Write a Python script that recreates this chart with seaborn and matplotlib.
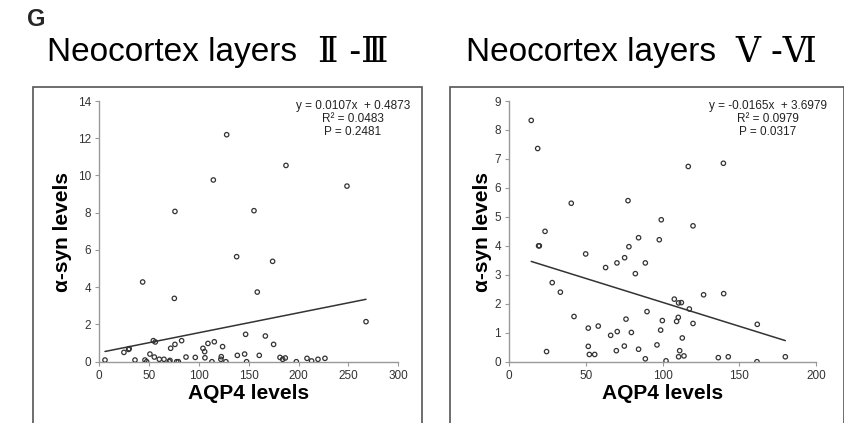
import numpy as np
import pandas as pd
import matplotlib.pyplot as plt
import seaborn as sns
from matplotlib.patches import Rectangle

# layers II-III : AQP4 vs alpha-syn
aqp4_23 = [5.7, 24.7, 29.4, 30, 35.8, 43.5, 45.8, 47.5, 50.8, 54.2, 56.2, 55.2, 60.2, 64.9,
           70.2, 70.9, 71.6, 75.3, 75.9, 75.9, 77.6, 79.3, 82.6, 87, 96.3, 104, 105.7, 106,
           109, 113, 114.4, 115.4, 122.4, 122, 123.7, 127, 127.8, 137.8, 138.5, 145.8, 146.8,
           147.8, 155.2, 158.5, 160.5, 166.6, 173.9, 174.9, 181.3, 184, 186.6, 187.3, 197.7,
           208.4, 213, 219.4, 226.4, 248.5, 267.6]
syn_23 = [0.09, 0.5, 0.66, 0.7, 0.09, 4.28, 0.09, 0.0, 0.41, 1.13, 1.06, 0.25, 0.13, 0.13,
          0.0, 0.07, 0.72, 3.4, 8.07, 0.93, 0.0, 0.0, 1.13, 0.25, 0.23, 0.72, 0.54, 0.21,
          0.98, 0.0, 9.76, 1.07, 0.27, 0.13, 0.81, 0.0, 12.19, 5.64, 0.34, 0.41, 1.47,
          0.0, 8.11, 3.74, 0.34, 1.38, 5.39, 0.93, 0.23, 0.13, 0.2, 10.54, 0.0,
          0.18, 0.04, 0.13, 0.18, 9.43, 2.15]
slope_23, icpt_23 = 0.0107, 0.4873
stats_23 = ["y = 0.0107x  + 0.4873", "R² = 0.0483", "P = 0.2481"]

# layers V-VI
aqp4_56 = [14.3, 18.5, 19.1, 19.6, 23.3, 24.3, 28, 33.3, 40.4, 42.2, 49.8, 51.5, 51.5, 52.2,
           55.7, 58, 62.8, 66.1, 69.8, 70.2, 70.4, 75, 75.2, 76.1, 77.4, 78, 79.6, 82.2,
           84.3, 84.3, 88.7, 88.7, 89.8, 96.3, 97.8, 98.7, 99.1, 99.8, 102.2, 107.6, 109.1,
           110.2, 110.4, 111.1, 112.2, 110.4, 112.8, 113.9, 116.7, 117.4, 119.8, 119.8,
           126.7, 136.3, 139.6, 139.8, 142.8, 161.5, 161.7, 180]
syn_56 = [8.33, 7.36, 4.0, 4.0, 4.5, 0.35, 2.73, 2.4, 5.47, 1.56, 3.72, 1.16, 0.53, 0.25,
          0.25, 1.23, 3.25, 0.91, 0.38, 3.41, 1.04, 0.54, 3.59, 1.47, 5.56, 3.97, 1.01, 3.04,
          4.28, 0.43, 3.41, 0.1, 1.73, 0.58, 4.21, 1.09, 4.9, 1.42, 0.03, 2.16, 1.39,
          1.53, 2.03, 0.38, 2.04, 0.17, 0.82, 0.2, 6.74, 1.82, 4.69, 1.32,
          2.31, 0.14, 6.85, 2.35, 0.17, 0.0, 1.29, 0.17]
slope_56, icpt_56 = -0.0165, 3.6979
stats_56 = ["y = -0.0165x  + 3.6979", "R² = 0.0979", "P = 0.0317"]

title_text = "Neocortex layers"
title_layers = ["Ⅱ -Ⅲ", "Ⅴ -Ⅵ"]

sns.set_style("white")
fam = ['Liberation Sans', 'Noto Sans CJK JP', 'DejaVu Sans']
plt.rcParams['font.family'] = fam

fig = plt.figure(figsize=(8.45, 4.23), dpi=100)

# panel frames
for x0, x1 in [(33, 422.5), (450, 843.5)]:
    fig.patches.append(Rectangle((x0 / 845, -0.05), (x1 - x0) / 845, (423 - 87.3) / 423 + 0.05,
                                 transform=fig.transFigure, fill=False, ec='#555555', lw=1.2))

panels = [
    (aqp4_23, syn_23, slope_23, icpt_23, stats_23, 300, 14, 2, [0, 50, 100, 150, 200, 250, 300], 99.3, 299.0, 353),
    (aqp4_56, syn_56, slope_56, icpt_56, stats_56, 200, 9, 1, [0, 50, 100, 150, 200], 509.3, 306.7, 768),
]

for i, (xs, ys, m, b, st, xmax, ymax, ystep, xt, px, pw, tx) in enumerate(panels):
    ax = fig.add_axes([px / 845, (423 - 361.7) / 423, pw / 845, 260.7 / 423])
    df = pd.DataFrame({"aqp4": xs, "syn": ys})
    sns.scatterplot(data=df, x="aqp4", y="syn", ax=ax, s=10, facecolor='none',
                    edgecolor='#333333', linewidth=0.9, zorder=3)
    fit = pd.DataFrame({"x": [min(xs), max(xs)]})
    fit["y"] = m * fit["x"] + b
    sns.lineplot(data=fit, x="x", y="y", ax=ax, color='#333333', lw=1.1)
    ax.set_xlim(0, xmax)
    ax.set_ylim(0, ymax)
    ax.set_xticks(xt)
    ax.set_yticks(np.arange(0, ymax + 1, ystep))
    ax.set_xlabel("")
    ax.set_ylabel("")
    sns.despine(ax=ax)
    for s in ["left", "bottom"]:
        ax.spines[s].set_color('#999999')
        ax.spines[s].set_linewidth(1.0)
    ax.tick_params(axis='both', direction='out', length=3, width=0.8, color='#999999',
                   labelsize=8.5, labelcolor='#333333', pad=3, bottom=True, left=True)
    for k, line in enumerate(st):
        fig.text(tx / 845, 1 - (106.5 + 12.7 * k) / 423, line, ha='center', va='center',
                 fontsize=8.5, color='#222222')
    # titles and axis labels
    fig.text([47, 466][i] / 845, 1 - 52 / 423, title_text, ha='left', va='center',
             fontsize=24, color='black', family=['Liberation Sans', 'DejaVu Sans'])
    fig.text([318, 735][i] / 845, 1 - 52 / 423, title_layers[i], ha='left', va='center',
             fontsize=25, color='black', family=['DejaVu Serif', 'Noto Sans CJK JP'])
    fig.text([249, 663][i] / 845, 1 - 393 / 423, "AQP4 levels", ha='center', va='center',
             fontsize=15, fontweight='bold', color='black')
    fig.text([63, 483][i] / 845, 1 - 232 / 423, "α-syn levels", ha='center', va='center',
             fontsize=15, fontweight='bold', rotation=90, color='black')

fig.text(27 / 845, 1 - 19 / 423, "G", ha='left', va='center', fontsize=17,
         fontweight='bold', family=['Liberation Sans', 'DejaVu Sans'])

fig.savefig("out.png", dpi=100)
